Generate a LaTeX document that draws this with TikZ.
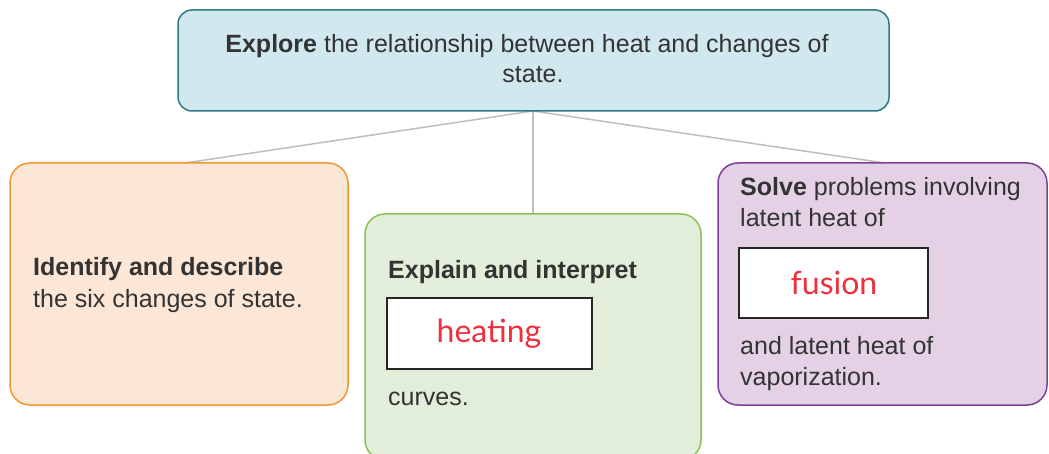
\documentclass[tikz,border=0pt]{standalone}
\usepackage{fontspec}
\setmainfont{Liberation Sans}
\newfontfamily\handfont{Lato}
\definecolor{txt}{HTML}{333333}
\definecolor{topfill}{HTML}{D1E8EF}
\definecolor{topdraw}{HTML}{2B7A86}
\definecolor{orfill}{HTML}{FCE6D5}
\definecolor{ordraw}{HTML}{F29535}
\definecolor{grfill}{HTML}{E2EDDA}
\definecolor{grdraw}{HTML}{8CC152}
\definecolor{pufill}{HTML}{E4D1E6}
\definecolor{pudraw}{HTML}{7D3F98}
\definecolor{hand}{HTML}{EE2F3C}
\definecolor{linkc}{HTML}{BEBEBE}
\tikzset{
  box/.style={line width=1.5pt, rounded corners=14pt},
  lbl/.style={anchor=base west, inner sep=0pt, text=txt, font=\fontsize{25}{30}\selectfont},
  answer/.style={draw=black!85, line width=2pt, fill=white},
  handtxt/.style={text=hand, inner sep=0pt, font=\handfont\fontsize{32}{36}\selectfont},
  link/.style={draw=linkc, line width=1.5pt}
}
\begin{document}
\begin{tikzpicture}[x=1pt,y=-1pt]
\useasboundingbox (0,0) rectangle (1049,454);
% connectors
\coordinate (hub) at (533,111);
\coordinate (orTop) at (185,163);
\coordinate (grTop) at (533,214);
\coordinate (puTop) at (885,163);
\draw[link] (hub) -- (orTop);
\draw[link] (hub) -- (grTop);
\draw[link] (hub) -- (puTop);
% top
\draw[box, fill=topfill, draw=topdraw] (178,10) rectangle (889,111);
\node[anchor=base, inner sep=0pt, text=txt, font=\fontsize{25}{30}\selectfont] (t1) at (527,53) {\textbf{Explore} the relationship between heat and changes of};
\node[anchor=base, inner sep=0pt, text=txt, font=\fontsize{25}{30}\selectfont] (t2) at (533,83) {state.};
% orange
\draw[box, rounded corners=20pt, fill=orfill, draw=ordraw] (10,163) rectangle (348,405);
\node[lbl] (o1) at (33,276) {\textbf{Identify and describe}};
\node[lbl] (o2) at (33,308) {the six changes of state.};
% green
\draw[box, rounded corners=20pt, fill=grfill, draw=grdraw] (365,214) rectangle (701,460);
\node[lbl] (g1) at (388,279) {\textbf{Explain and interpret}};
\draw[answer] (387,298) rectangle (592,369);
\node[handtxt] (g2) at (489,334) {heating};
\node[lbl] (g3) at (388,405) {curves.};
% purple
\draw[box, rounded corners=20pt, fill=pufill, draw=pudraw] (718,163) rectangle (1047,405);
\node[lbl] (p1) at (740,196) {\textbf{Solve} problems involving};
\node[lbl] (p2) at (740,227) {latent heat of};
\draw[answer] (739,248) rectangle (928,318);
\node[handtxt] (p3) at (834,283) {fusion};
\node[lbl] (p4) at (740,354) {and latent heat of};
\node[lbl] (p5) at (740,385) {vaporization.};
\end{tikzpicture}
\end{document}
